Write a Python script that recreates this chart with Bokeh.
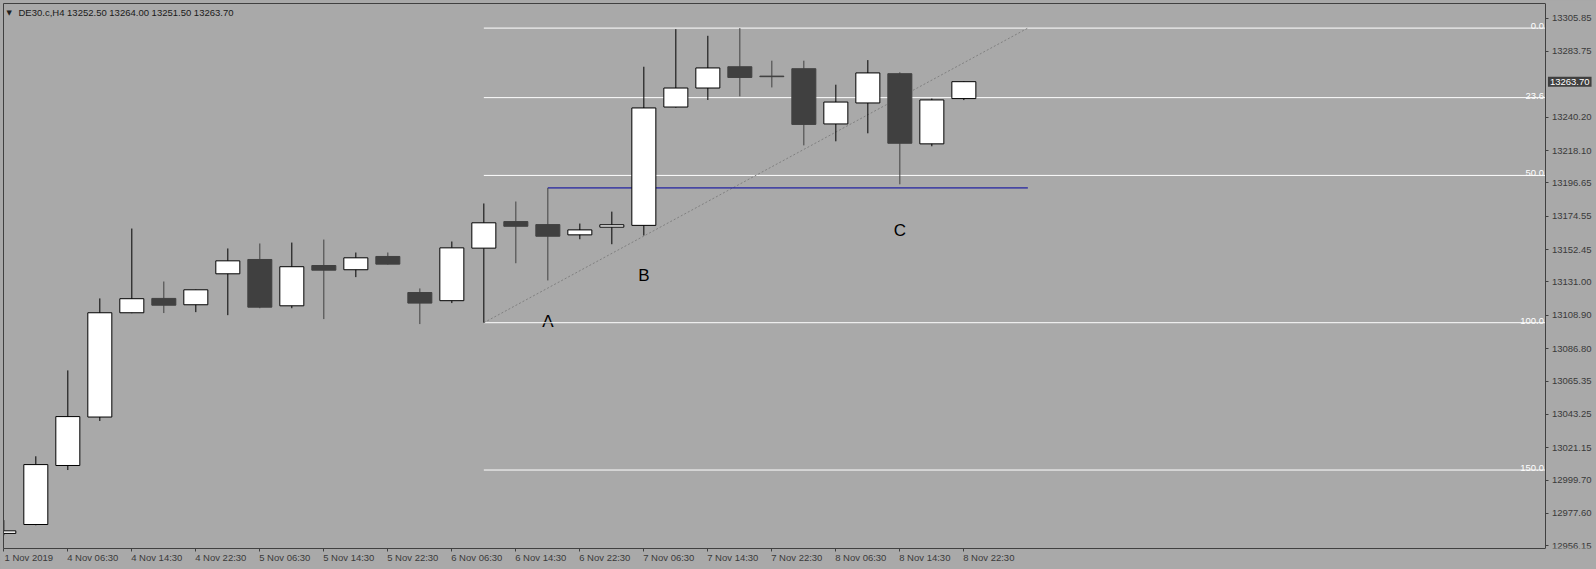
from bokeh.plotting import figure
from bokeh.models import (Range1d, FixedTicker, PrintfTickFormatter, Label,
                          GlobalInlineStyleSheet, ColumnDataSource, LinearAxis)
from bokeh.core.properties import value
from bokeh.embed import file_html
from bokeh.resources import INLINE

# ---------------- data ----------------
opens = [12964.4, 12970.3, 13009.4, 13041.5, 13110.6, 13120.1, 13115.9, 13136.4,
         13145.9, 13115.2, 13141.9, 13139.1, 13147.9, 13124.0, 13118.6, 13153.4,
         13171.0, 13169.0, 13162.2, 13167.3, 13168.5, 13246.9, 13259.5, 13273.6,
         13267.4, 13272.3, 13235.7, 13249.6, 13269.0, 13222.5, 13252.5]
highs = [12973.2, 13015.5, 13072.4, 13120.1, 13166.4, 13131.3, 13126.0, 13153.2,
         13156.5, 13157.1, 13159.1, 13150.5, 13150.5, 13126.7, 13157.8, 13183.0,
         13184.3, 13193.3, 13169.7, 13177.6, 13273.6, 13298.5, 13294.1, 13299.2,
         13277.6, 13277.6, 13261.7, 13278.0, 13269.9, 13252.5, 13264.0]
lows = [12963.2, 12969.8, 13006.4, 13038.9, 13110.3, 13110.4, 13111.0, 13109.0,
        13113.6, 13113.6, 13106.4, 13134.2, 13142.5, 13103.1, 13117.0, 13104.0,
        13143.4, 13132.0, 13159.3, 13156.0, 13161.8, 13246.5, 13251.6, 13254.0,
        13259.9, 13221.5, 13224.2, 13229.5, 13195.7, 13220.9, 13251.5]
closes = [12966.1, 13010.0, 13041.8, 13110.6, 13119.9, 13115.6, 13125.8, 13145.0,
          13114.3, 13141.1, 13138.8, 13147.0, 13142.8, 13117.0, 13153.6, 13170.2,
          13167.9, 13161.3, 13165.5, 13168.9, 13246.3, 13259.5, 13272.8, 13266.5,
          13267.0, 13235.4, 13250.2, 13269.5, 13222.9, 13251.6, 13263.7]

time_tick_bars = [0, 2, 4, 6, 8, 10, 12, 14, 16, 18, 20, 22, 24, 26, 28, 30]
time_tick_labels = ["1 Nov 2019", "4 Nov 06:30", "4 Nov 14:30", "4 Nov 22:30",
                    "5 Nov 06:30", "5 Nov 14:30", "5 Nov 22:30", "6 Nov 06:30",
                    "6 Nov 14:30", "6 Nov 22:30", "7 Nov 06:30", "7 Nov 14:30",
                    "7 Nov 22:30", "8 Nov 06:30", "8 Nov 14:30", "8 Nov 22:30"]

price_ticks = [12956.15, 12977.60, 12999.70, 13021.15, 13043.25, 13065.35,
               13086.80, 13108.90, 13131.00, 13152.45, 13174.55, 13196.65,
               13218.10, 13240.20, 13283.75, 13305.85]

symbol = "DE30.c,H4"

# Fibonacci retracement anchors (bar index, price)
fib_start_bar, fib_low = 15, 13104.0
fib_end_bar, fib_high = 32, 13299.2
fib_levels_pct = [0.0, 23.6, 50.0, 100.0, 150.0]

# horizontal blue line
hline_start_bar, hline_end_bar, hline_price = 17, 32, 13193.3

# wave labels
wave_text = ["A", "B", "C"]
wave_bar = [17, 20, 28]
wave_price = [13104.5, 13135.6, 13165.4]

# ---------------- styles ----------------
BG = "#A9A9A9"
BEAR = "#404040"
AXIS = "#404040"
FONT_NAME = "Liberation Sans"
FONT = value(FONT_NAME)

n = len(opens)
idx = list(range(n))
bull = [c >= o for o, c in zip(opens, closes)]

src = ColumnDataSource(dict(
    x=idx,
    top=[max(o, c) for o, c in zip(opens, closes)],
    bottom=[min(o, c) for o, c in zip(opens, closes)],
    high=highs, low=lows,
    fill=["white" if b else BEAR for b in bull],
    line=["black" if b else BEAR for b in bull],
))

# chart area ends at bar XR (price scale drawn there); range continues under the price scale
X0, XR, X1 = -0.01, 48.19, 49.77
Y0, Y1 = 12954.4, 13315.5
p = figure(width=1596, height=569,
           x_range=Range1d(X0, X1), y_range=Range1d(Y0, Y1),
           output_backend="svg", toolbar_location=None,
           x_axis_location="below", y_axis_location="right",
           background_fill_color=BG, border_fill_color=BG,
           min_border_left=3, min_border_top=3, min_border_right=0,
           min_border_bottom=21)
p.outline_line_color = None
p.grid.visible = False
p.stylesheets = [GlobalInlineStyleSheet(css="body { background: %s; }" % BG)]

# wave labels (drawn first: the chart objects lie over them)
p.text(x=wave_bar, y=wave_price, text=wave_text, text_align="center",
       text_baseline="middle", text_font=FONT, text_font_size="17px",
       text_color="black")

# fib levels
fib_prices = [fib_high - pct / 100.0 * (fib_high - fib_low) for pct in fib_levels_pct]
p.segment(x0=[fib_start_bar] * len(fib_prices), y0=fib_prices,
          x1=[XR] * len(fib_prices), y1=fib_prices,
          line_color="white", line_width=1)
p.text(x=[XR] * len(fib_prices), y=fib_prices,
       text=["%.1f" % v for v in fib_levels_pct],
       text_align="right", text_baseline="alphabetic", x_offset=-2, y_offset=-2,
       text_font=FONT, text_font_size="9.5px", text_color="white")

# diagonal dotted line
p.line(x=[fib_start_bar, fib_end_bar], y=[fib_low, fib_high],
       line_color="#808080", line_dash="2 2", line_width=1)

# blue horizontal line
p.line(x=[hline_start_bar, hline_end_bar], y=[hline_price, hline_price],
       line_color="#0000A0", line_width=1)

# candles
p.segment(x0="x", y0="low", x1="x", y1="high", line_color="line", line_width=1, source=src)
p.vbar(x="x", width=0.75, top="top", bottom="bottom", fill_color="fill",
       line_color="line", line_width=1, source=src)

# header
p.text(x=[X0], y=[Y1], text=["\u25bc"], x_offset=3, y_offset=5,
       text_baseline="top", text_align="left", text_font=value("DejaVu Sans"),
       text_font_size="7px", text_color="#202020")
header = "%s  %.2f %.2f %.2f %.2f" % (symbol, opens[-1], highs[-1], lows[-1], closes[-1])
p.text(x=[X0], y=[Y1], text=[header], x_offset=15, y_offset=3,
       text_baseline="top", text_align="left", text_font=FONT,
       text_font_size="9.5px", text_color="#1a1a1a")

# current price box on the price scale
p.add_layout(Label(x=XR, y=closes[-1], text="%.2f" % closes[-1],
                   x_offset=2, text_baseline="middle", text_align="left",
                   text_font=FONT_NAME, text_font_size="9.5px", text_color="white",
                   background_fill_color=BEAR, padding=2))

# time axis
xa = p.xaxis[0]
label_pos = [b + 0.78 for b in time_tick_bars]
xa.ticker = FixedTicker(ticks=label_pos, minor_ticks=time_tick_bars)
xa.major_label_overrides = {lp: lab for lp, lab in zip(label_pos, time_tick_labels)}
xa.bounds = (X0, XR)
xa.major_tick_out = 0
xa.major_tick_in = 0
xa.minor_tick_out = 3
xa.minor_tick_in = 0
xa.minor_tick_line_color = AXIS
xa.axis_line_color = AXIS
xa.major_label_standoff = 0
xa.major_label_text_font = FONT_NAME
xa.major_label_text_font_size = "9.5px"
xa.major_label_text_color = "#3a3a3a"

# price axis drawn at the right edge of the chart area
ya = p.yaxis[0]
ya.fixed_location = XR
ya.ticker = FixedTicker(ticks=price_ticks, minor_ticks=[])
ya.formatter = PrintfTickFormatter(format="%.2f")
ya.major_tick_out = 3
ya.major_tick_in = 0
ya.minor_tick_out = 0
ya.minor_tick_in = 0
ya.major_tick_line_color = AXIS
ya.axis_line_color = AXIS
ya.major_label_standoff = 3
ya.major_label_text_font = FONT_NAME
ya.major_label_text_font_size = "9.5px"
ya.major_label_text_color = "#3a3a3a"

# chart border: left and top edges
left_edge = LinearAxis(ticker=FixedTicker(ticks=[]), major_tick_out=0, major_tick_in=0,
                       minor_tick_out=0, minor_tick_in=0, major_label_standoff=0,
                       axis_line_color=AXIS)
p.add_layout(left_edge, "left")
top_edge = LinearAxis(ticker=FixedTicker(ticks=[]), major_tick_out=0, major_tick_in=0,
                      minor_tick_out=0, minor_tick_in=0, major_label_standoff=0,
                      axis_line_color=AXIS, bounds=(X0, XR))
p.add_layout(top_edge, "above")

open("out.html", "w").write(file_html(p, INLINE))
